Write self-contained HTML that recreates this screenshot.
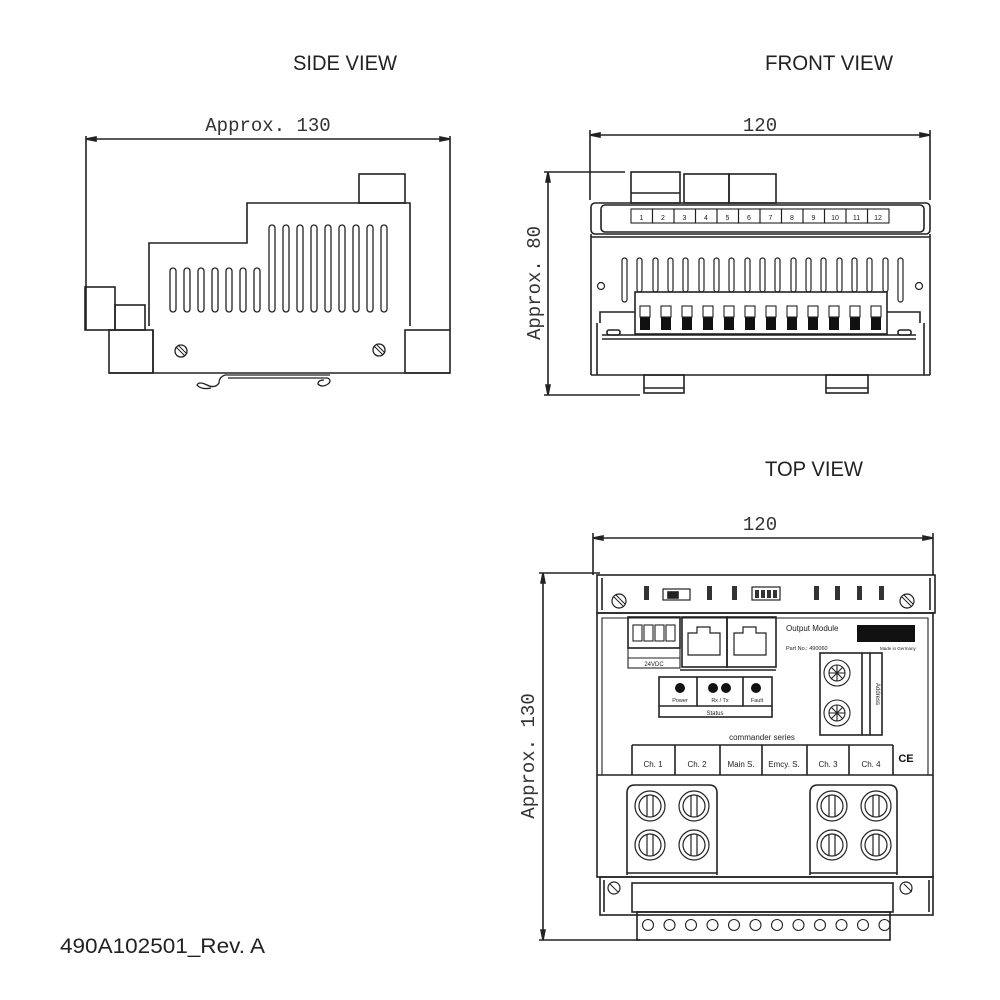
<!DOCTYPE html>
<html><head><meta charset="utf-8"><style>
html,body{margin:0;padding:0;background:#fff;}
svg{display:block;}
.t{font-family:"Liberation Sans",sans-serif;fill:#222;}
.m{font-family:"Liberation Mono",monospace;fill:#333;}
</style></head><body>
<svg width="1000" height="1000" viewBox="0 0 1000 1000" xmlns="http://www.w3.org/2000/svg">
<g fill="none" stroke="#222" stroke-width="1.6">
<!-- ===== SIDE VIEW ===== -->
<line x1="86" y1="139" x2="450" y2="139"/>
<line x1="86" y1="136" x2="86" y2="330"/>
<line x1="450" y1="136" x2="450" y2="330"/>
<path d="M86 139 l10 -2 v4 z M450 139 l-10 -2 v4 z" fill="#222"/>
<rect x="85" y="287" width="30" height="43"/>
<rect x="115" y="305" width="30" height="25"/>
<rect x="109" y="330" width="44" height="43"/>
<path d="M149 326 V243 H247 V203 H410 V326"/>
<line x1="153" y1="330" x2="153" y2="373"/>
<rect x="359" y="174" width="46" height="29"/>
<rect x="405" y="330" width="45" height="43"/>
<line x1="109" y1="373" x2="450" y2="373"/>
<g stroke-width="1.3">
<rect x="170" y="268" width="6" height="44" rx="3"/><rect x="184" y="268" width="6" height="44" rx="3"/><rect x="198" y="268" width="6" height="44" rx="3"/><rect x="212" y="268" width="6" height="44" rx="3"/><rect x="226" y="268" width="6" height="44" rx="3"/><rect x="240" y="268" width="6" height="44" rx="3"/><rect x="254" y="268" width="6" height="44" rx="3"/>
<rect x="269" y="225" width="6" height="87" rx="3"/><rect x="283" y="225" width="6" height="87" rx="3"/><rect x="297" y="225" width="6" height="87" rx="3"/><rect x="311" y="225" width="6" height="87" rx="3"/><rect x="325" y="225" width="6" height="87" rx="3"/><rect x="339" y="225" width="6" height="87" rx="3"/><rect x="353" y="225" width="6" height="87" rx="3"/><rect x="367" y="225" width="6" height="87" rx="3"/><rect x="381" y="225" width="6" height="87" rx="3"/>
<circle cx="181" cy="351" r="6"/><circle cx="379" cy="350" r="6"/>
<path d="M176 347 l9 9 M178 345 l9 9 M374 346 l9 9 M376 344 l9 9" stroke-width="1"/>
<path d="M225 375 H330 M228 378 H328 M225 375 q-6 2 -6 8 q-4 6 -12 2 q-8 -4 -10 0 q4 5 14 3 M328 378 q4 3 0 6 q-6 4 -10 0 q0 -4 6 -4"/>
</g>

<!-- ===== FRONT VIEW ===== -->
<line x1="590" y1="135" x2="930" y2="135"/>
<line x1="590" y1="130" x2="590" y2="200"/>
<line x1="930" y1="130" x2="930" y2="200"/>
<path d="M590 135 l10 -2 v4 z M930 135 l-10 -2 v4 z" fill="#222"/>
<line x1="548" y1="172" x2="548" y2="395"/>
<line x1="544" y1="172" x2="625" y2="172"/>
<line x1="544" y1="395" x2="640" y2="395"/>
<path d="M548 172 l-2 10 h4 z M548 395 l-2 -10 h4 z" fill="#222"/>
<rect x="631" y="172" width="49" height="31"/>
<line x1="631" y1="193" x2="680" y2="193"/>
<rect x="684" y="174" width="45" height="29"/>
<rect x="729" y="174" width="47" height="29"/>
<rect x="591" y="203" width="339" height="31" rx="4"/>
<rect x="601" y="205" width="323" height="27" rx="4"/>
<g stroke-width="1.1">
<rect x="631" y="209" width="21.5" height="14"/><rect x="652.5" y="209" width="21.5" height="14"/><rect x="674" y="209" width="21.5" height="14"/><rect x="695.5" y="209" width="21.5" height="14"/><rect x="717" y="209" width="21.5" height="14"/><rect x="738.5" y="209" width="21.5" height="14"/><rect x="760" y="209" width="21.5" height="14"/><rect x="781.5" y="209" width="21.5" height="14"/><rect x="803" y="209" width="21.5" height="14"/><rect x="824.5" y="209" width="21.5" height="14"/><rect x="846" y="209" width="21.5" height="14"/><rect x="867.5" y="209" width="21.5" height="14"/>
</g>
<line x1="591" y1="237" x2="930" y2="237"/>
<line x1="591" y1="234" x2="591" y2="375"/>
<line x1="930" y1="234" x2="930" y2="375"/>
<line x1="597" y1="323" x2="597" y2="375"/>
<line x1="924" y1="323" x2="924" y2="375"/>
<g stroke-width="1.2">
<rect x="622" y="258" width="5" height="44" rx="2.5"/><rect x="637" y="258" width="5" height="34" rx="2.5"/><rect x="653" y="258" width="5" height="34" rx="2.5"/><rect x="668" y="258" width="5" height="34" rx="2.5"/><rect x="683" y="258" width="5" height="34" rx="2.5"/><rect x="699" y="258" width="5" height="34" rx="2.5"/><rect x="714" y="258" width="5" height="34" rx="2.5"/><rect x="729" y="258" width="5" height="34" rx="2.5"/><rect x="745" y="258" width="5" height="34" rx="2.5"/><rect x="760" y="258" width="5" height="34" rx="2.5"/><rect x="775" y="258" width="5" height="34" rx="2.5"/><rect x="791" y="258" width="5" height="34" rx="2.5"/><rect x="806" y="258" width="5" height="34" rx="2.5"/><rect x="821" y="258" width="5" height="34" rx="2.5"/><rect x="837" y="258" width="5" height="34" rx="2.5"/><rect x="852" y="258" width="5" height="34" rx="2.5"/><rect x="867" y="258" width="5" height="34" rx="2.5"/><rect x="883" y="258" width="5" height="34" rx="2.5"/><rect x="898" y="258" width="5" height="44" rx="2.5"/>
<circle cx="601" cy="286" r="3.5"/><circle cx="919" cy="286" r="3.5"/>
</g>
<rect x="635" y="292" width="252" height="42"/>
<g fill="#111" stroke="none">
<rect x="640" y="317" width="10" height="13"/><rect x="661" y="317" width="10" height="13"/><rect x="682" y="317" width="10" height="13"/><rect x="703" y="317" width="10" height="13"/><rect x="724" y="317" width="10" height="13"/><rect x="745" y="317" width="10" height="13"/><rect x="766" y="317" width="10" height="13"/><rect x="787" y="317" width="10" height="13"/><rect x="808" y="317" width="10" height="13"/><rect x="829" y="317" width="10" height="13"/><rect x="850" y="317" width="10" height="13"/><rect x="871" y="317" width="10" height="13"/>
</g>
<g stroke-width="1.1">
<rect x="640" y="306" width="10" height="11"/><rect x="661" y="306" width="10" height="11"/><rect x="682" y="306" width="10" height="11"/><rect x="703" y="306" width="10" height="11"/><rect x="724" y="306" width="10" height="11"/><rect x="745" y="306" width="10" height="11"/><rect x="766" y="306" width="10" height="11"/><rect x="787" y="306" width="10" height="11"/><rect x="808" y="306" width="10" height="11"/><rect x="829" y="306" width="10" height="11"/><rect x="850" y="306" width="10" height="11"/><rect x="871" y="306" width="10" height="11"/>
</g>
<path d="M600 323 V312 H635 M887 312 H920 V323"/>
<rect x="607" y="330" width="13" height="5" rx="2"/><rect x="898" y="330" width="13" height="5" rx="2"/>
<line x1="602" y1="335" x2="916" y2="335"/>
<line x1="602" y1="339" x2="916" y2="339"/>
<line x1="591" y1="375" x2="930" y2="375"/>
<rect x="644" y="375" width="40" height="18"/><line x1="644" y1="388" x2="684" y2="388"/>
<rect x="826" y="375" width="42" height="18"/><line x1="826" y1="388" x2="868" y2="388"/>

<!-- ===== TOP VIEW ===== -->
<line x1="593" y1="538" x2="933" y2="538"/>
<line x1="593" y1="533" x2="593" y2="575"/>
<line x1="933" y1="533" x2="933" y2="575"/>
<path d="M593 538 l10 -2 v4 z M933 538 l-10 -2 v4 z" fill="#222"/>
<line x1="543" y1="573" x2="543" y2="940"/>
<line x1="539" y1="573" x2="600" y2="573"/>
<line x1="539" y1="940" x2="640" y2="940"/>
<path d="M543 573 l-2 10 h4 z M543 940 l-2 -10 h4 z" fill="#222"/>
<rect x="597" y="575" width="338" height="38"/>
<line x1="602" y1="578" x2="602" y2="610"/><line x1="930" y1="578" x2="930" y2="610"/>
<g stroke-width="1.2">
<circle cx="619" cy="601" r="7"/><circle cx="907" cy="601" r="7"/>
<path d="M614 597 l9 9 M616 595 l9 9 M902 597 l9 9 M904 595 l9 9" stroke-width="1"/>
<rect x="663" y="589" width="27" height="11"/>
<rect x="752" y="587" width="28" height="13"/>
</g>
<rect x="668" y="592" width="10" height="6" fill="#222"/>
<g fill="#333" stroke="none">
<rect x="644" y="586" width="5" height="14"/><rect x="707" y="586" width="5" height="14"/><rect x="732" y="586" width="5" height="14"/>
<rect x="814" y="586" width="5" height="14"/><rect x="835" y="586" width="5" height="14"/><rect x="857" y="586" width="5" height="14"/><rect x="879" y="586" width="5" height="14"/>
<rect x="755" y="590" width="4" height="8"/><rect x="761" y="590" width="4" height="8"/><rect x="767" y="590" width="4" height="8"/><rect x="773" y="590" width="4" height="8"/>
</g>
<rect x="597" y="613" width="336" height="264"/>
<path d="M602 775 V618 H928 V775" stroke-width="1.1"/>
<rect x="628" y="617" width="52" height="31"/>
<g stroke-width="1.1">
<rect x="633" y="625" width="9" height="16"/><rect x="644" y="625" width="9" height="16"/><rect x="655" y="625" width="9" height="16"/><rect x="666" y="625" width="9" height="16"/>
<rect x="628" y="648" width="52" height="20"/><line x1="628" y1="658" x2="680" y2="658"/>
</g>
<rect x="682" y="617" width="45" height="50"/>
<rect x="727" y="617" width="49" height="50"/>
<path d="M688 655 V633 H697 V627 H710 V633 H720 V655 Z M734 655 V633 H743 V627 H756 V633 H766 V655 Z" stroke-width="1.2"/>
<line x1="680" y1="670" x2="776" y2="670"/>
<rect x="659" y="677" width="113" height="40"/>
<line x1="659" y1="706" x2="772" y2="706"/>
<line x1="697" y1="677" x2="697" y2="706"/><line x1="743" y1="677" x2="743" y2="706"/>
<g fill="#111" stroke="none">
<circle cx="680" cy="688" r="5"/><circle cx="713" cy="688" r="5"/><circle cx="726" cy="688" r="5"/><circle cx="756" cy="688" r="5"/>
<rect x="857" y="625" width="58" height="17"/>
</g>
<rect x="820" y="653" width="62" height="82"/>
<line x1="862" y1="653" x2="862" y2="735"/><line x1="870" y1="653" x2="870" y2="735"/>
<g stroke-width="1.1">
<circle cx="837" cy="673" r="13"/><circle cx="837" cy="673" r="8"/>
<circle cx="837" cy="713" r="13"/><circle cx="837" cy="713" r="8"/>
<path d="M829 673 h16 M837 665 v16 M831 667 l12 12 M843 667 l-12 12 M829 713 h16 M837 705 v16 M831 707 l12 12 M843 707 l-12 12"/>
</g>
<line x1="632" y1="745" x2="893" y2="745"/>
<line x1="632" y1="745" x2="632" y2="775"/><line x1="675" y1="745" x2="675" y2="775"/><line x1="720" y1="745" x2="720" y2="775"/><line x1="762" y1="745" x2="762" y2="775"/><line x1="807" y1="745" x2="807" y2="775"/><line x1="849" y1="745" x2="849" y2="775"/><line x1="893" y1="745" x2="893" y2="775"/>
<line x1="597" y1="775" x2="933" y2="775"/>
<path d="M627 875 V793 q0 -8 8 -8 H709 q8 0 8 8 V875 M810 875 V793 q0 -8 8 -8 H889 q8 0 8 8 V875"/>
<line x1="627" y1="873" x2="717" y2="873"/><line x1="810" y1="873" x2="897" y2="873"/>
<g stroke-width="1.2">
<circle cx="650" cy="806" r="15"/><circle cx="650" cy="806" r="11"/><circle cx="694" cy="806" r="15"/><circle cx="694" cy="806" r="11"/>
<circle cx="650" cy="845" r="15"/><circle cx="650" cy="845" r="11"/><circle cx="694" cy="845" r="15"/><circle cx="694" cy="845" r="11"/>
<circle cx="832" cy="806" r="15"/><circle cx="832" cy="806" r="11"/><circle cx="876" cy="806" r="15"/><circle cx="876" cy="806" r="11"/>
<circle cx="832" cy="845" r="15"/><circle cx="832" cy="845" r="11"/><circle cx="876" cy="845" r="15"/><circle cx="876" cy="845" r="11"/>
<path d="M647 796 v20 M653 796 v20 M691 796 v20 M697 796 v20 M647 835 v20 M653 835 v20 M691 835 v20 M697 835 v20 M829 796 v20 M835 796 v20 M873 796 v20 M879 796 v20 M829 835 v20 M835 835 v20 M873 835 v20 M879 835 v20"/>
</g>
<rect x="600" y="877" width="333" height="38"/>
<line x1="604" y1="880" x2="604" y2="912"/><line x1="929" y1="880" x2="929" y2="912"/>
<g stroke-width="1.2">
<circle cx="614" cy="888" r="6"/><circle cx="906" cy="888" r="6"/>
<path d="M610 884 l8 8 M904 884 l8 8" stroke-width="1"/>
</g>
<rect x="632" y="883" width="261" height="29"/>
<rect x="637" y="912" width="253" height="28"/>
<g stroke-width="1.1">
<circle cx="648" cy="925" r="5.5"/><circle cx="669.5" cy="925" r="5.5"/><circle cx="691" cy="925" r="5.5"/><circle cx="712.5" cy="925" r="5.5"/><circle cx="734" cy="925" r="5.5"/><circle cx="755.5" cy="925" r="5.5"/><circle cx="777" cy="925" r="5.5"/><circle cx="798.5" cy="925" r="5.5"/><circle cx="820" cy="925" r="5.5"/><circle cx="841.5" cy="925" r="5.5"/><circle cx="863" cy="925" r="5.5"/><circle cx="884.5" cy="925" r="5.5"/>
</g>
</g>

<!-- TEXT -->
<g class="t" font-size="21">
<text x="293" y="70" textLength="104" lengthAdjust="spacingAndGlyphs">SIDE VIEW</text>
<text x="765" y="70" textLength="128" lengthAdjust="spacingAndGlyphs">FRONT VIEW</text>
<text x="765" y="476" textLength="98" lengthAdjust="spacingAndGlyphs">TOP VIEW</text>
<text x="60" y="953" font-size="21" textLength="205" lengthAdjust="spacingAndGlyphs">490A102501_Rev. A</text>
</g>
<g class="m" font-size="19">
<text x="268" y="131" text-anchor="middle">Approx. 130</text>
<text x="760" y="131" text-anchor="middle">120</text>
<text x="760" y="530" text-anchor="middle">120</text>
<text transform="translate(540,283) rotate(-90)" text-anchor="middle">Approx. 80</text>
<text transform="translate(534,756) rotate(-90)" text-anchor="middle">Approx. 130</text>
</g>
<g class="t" font-size="7" fill="#444">
<text x="641.5" y="220" text-anchor="middle">1</text><text x="663" y="220" text-anchor="middle">2</text><text x="684.5" y="220" text-anchor="middle">3</text><text x="706" y="220" text-anchor="middle">4</text><text x="727.5" y="220" text-anchor="middle">5</text><text x="749" y="220" text-anchor="middle">6</text><text x="770.5" y="220" text-anchor="middle">7</text><text x="792" y="220" text-anchor="middle">8</text><text x="813.5" y="220" text-anchor="middle">9</text><text x="835" y="220" text-anchor="middle">10</text><text x="856.5" y="220" text-anchor="middle">11</text><text x="878" y="220" text-anchor="middle">12</text>
<text x="786" y="631" font-size="8">Output Module</text>
<text x="786" y="650" font-size="5.5">Part No.: 490060</text>
<text x="880" y="650" font-size="4.5">Made in Germany</text>
<text x="654" y="666" text-anchor="middle" font-size="6">24VDC</text>
<text x="680" y="702" text-anchor="middle" font-size="5.5">Power</text>
<text x="720" y="702" text-anchor="middle" font-size="5.5">Rx / Tx</text>
<text x="757" y="702" text-anchor="middle" font-size="5.5">Fault</text>
<text x="715" y="715" text-anchor="middle" font-size="6">Status</text>
<text x="762" y="740" text-anchor="middle" font-size="8">commander series</text>
<text x="653" y="767" text-anchor="middle" font-size="8">Ch. 1</text>
<text x="697" y="767" text-anchor="middle" font-size="8">Ch. 2</text>
<text x="741" y="767" text-anchor="middle" font-size="8">Main S.</text>
<text x="784" y="767" text-anchor="middle" font-size="8">Emcy. S.</text>
<text x="828" y="767" text-anchor="middle" font-size="8">Ch. 3</text>
<text x="871" y="767" text-anchor="middle" font-size="8">Ch. 4</text>
<text x="906" y="762" text-anchor="middle" font-size="11" font-weight="bold" fill="#111">CE</text>
<text transform="translate(876,694) rotate(90)" text-anchor="middle" font-size="6">Address</text>
</g>
</svg>
</body></html>
